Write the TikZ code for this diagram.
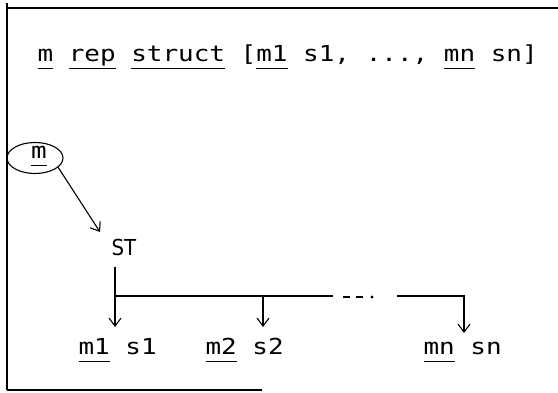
\documentclass[tikz,border=0pt]{standalone}
\usepackage{fontspec}
\usetikzlibrary{arrows.meta,shapes.geometric}
\newfontfamily\twfont[FakeStretch=1.18]{DejaVu Sans Mono}
\newfontfamily\stfont{DejaVu Sans}
\newcommand\ulx[1]{\underline{#1\vphantom{p}}}
\begin{document}
\begin{tikzpicture}[x=1pt,y=-1pt,line width=1.1pt,
  txt/.style={font=\twfont\fontsize{22}{26}\selectfont,inner sep=0pt},
  stlab/.style={font=\stfont\fontsize{22}{26}\selectfont,inner sep=0pt},
  arr/.style={-{Straight Barb[length=8pt,width=12pt,line width=1.1pt]}},
  oval/.style={ellipse,draw,line width=1.1pt,minimum width=56pt,minimum height=31pt,inner sep=0pt}]
\useasboundingbox (0,0) rectangle (558,393);
% frame
\coordinate (ftl) at (7,3);
\coordinate (fbl) at (7,390);
\coordinate (ft0) at (7,8);
\coordinate (ft1) at (558,8);
\coordinate (fb1) at (262,390);
\draw (ftl) -- (fbl);
\draw (ft0) -- (ft1);
\draw (fbl) -- (fb1);
% title
\node[txt,anchor=base west] (title) at (37,62)
  {\ulx{m} \ulx{rep} \ulx{struct} [\ulx{m1} s1, ..., \ulx{mn} sn]};
% oval and ST
\node[oval] (m) at (35,158) {};
\node[txt,anchor=base] (mt) at (39,159) {\ulx{m}};
\node[stlab] (st) at (124,247) {\scalebox{0.9}[1]{ST}};
\coordinate (a1) at (100,232);
\draw[arr] (m.-22) -- (a1);
% labels
\node[txt,anchor=base west] (l1) at (78,355) {\ulx{m1} s1};
\node[txt,anchor=base west] (l2) at (205,355) {\ulx{m2} s2};
\node[txt,anchor=base west] (ln) at (423,355) {\ulx{mn} sn};
% tree connectors
\coordinate (j0) at (115,267);
\coordinate (j1) at (115,296);
\coordinate (t1) at (115,327);
\coordinate (j2) at (263,296);
\coordinate (t2) at (263,327);
\coordinate (e1) at (333,296);
\coordinate (d0) at (343,297);
\coordinate (d1) at (363,297);
\coordinate (dot) at (372,297);
\coordinate (s3) at (397,296);
\coordinate (c3) at (464,296);
\coordinate (t3) at (464,333);
\draw[arr] (j0) -- (t1);
\draw (j1) -- (e1);
\draw[arr] (j2) -- (t2);
\draw[dash pattern=on 7pt off 6pt] (d0) -- (d1);
\fill (dot) circle (1.6pt);
\draw[arr] (s3) -- (c3) -- (t3);
\end{tikzpicture}
\end{document}
